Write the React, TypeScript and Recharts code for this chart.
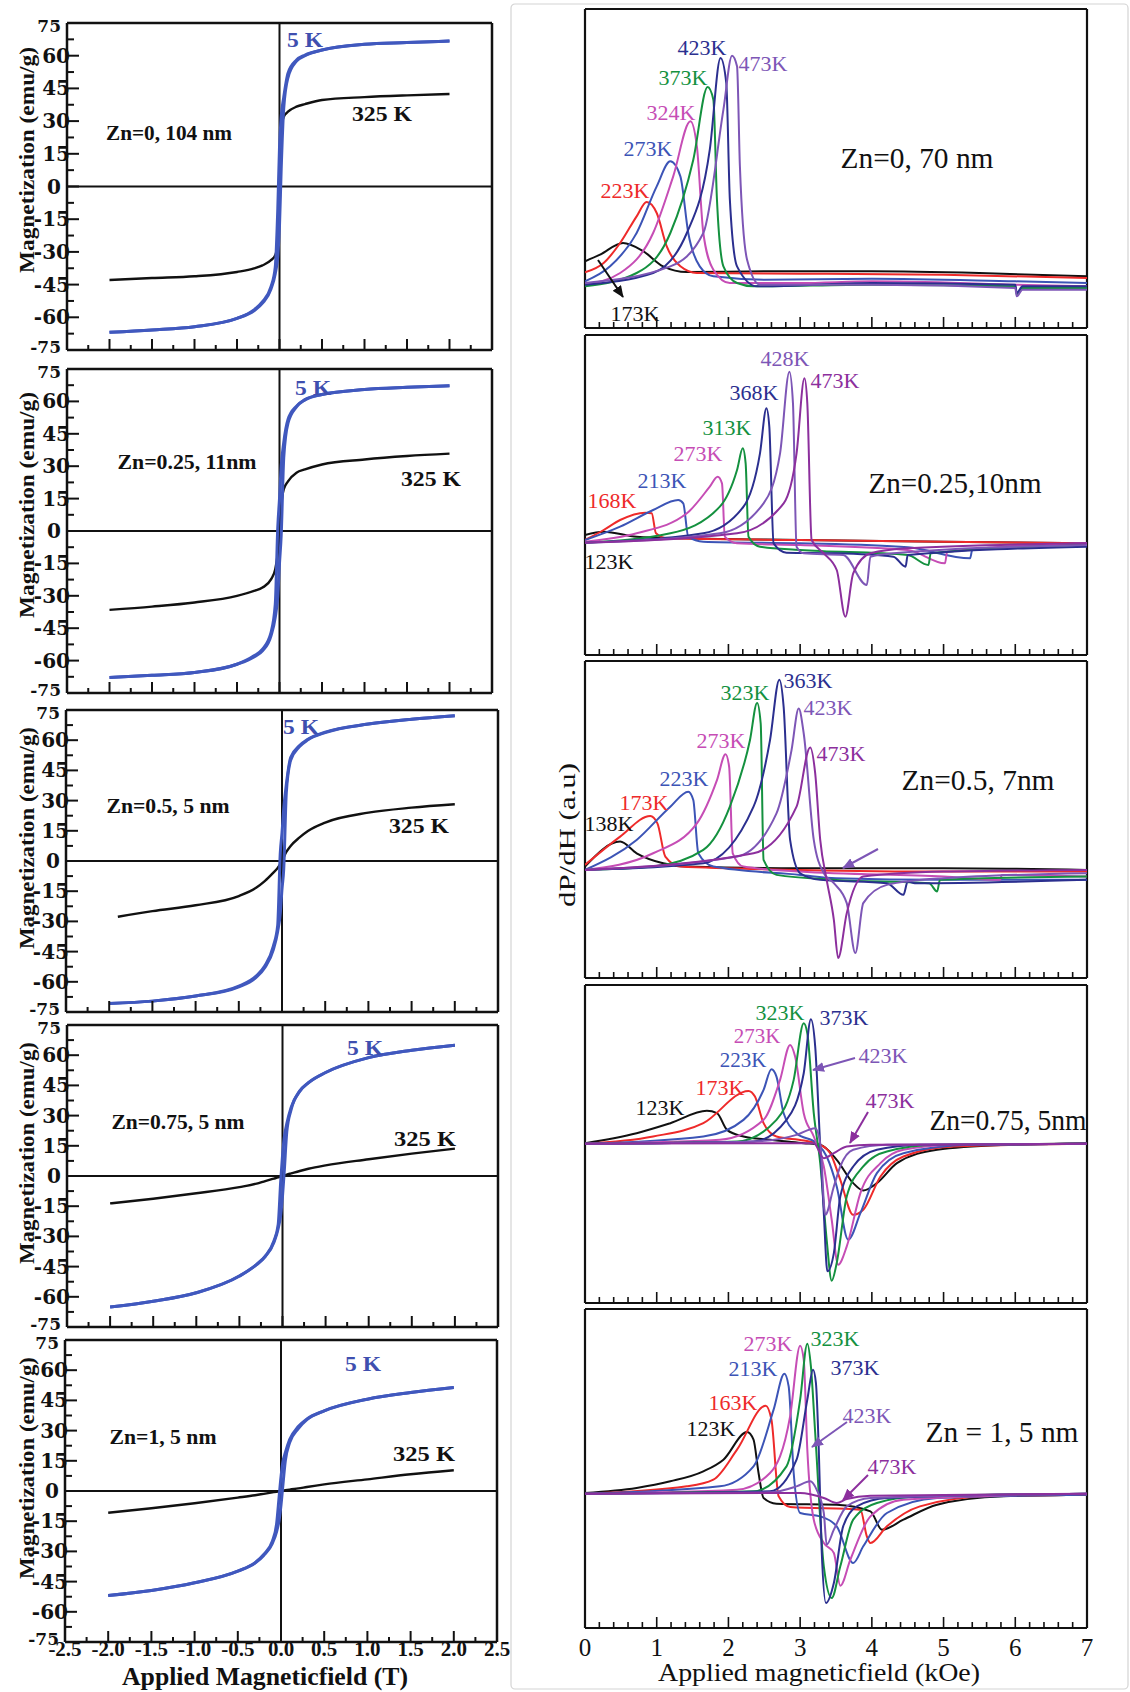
import React from 'react';
import { LineChart, Line, XAxis, YAxis, ReferenceLine } from 'recharts';

const FONT = "'Liberation Serif', 'Times New Roman', serif";

// ---------------- Left column: M-H hysteresis ----------------
const HX = [-2, -1.5, -1, -0.5, -0.3, -0.2, -0.1, -0.05, -0.02, 0, 0.02, 0.05, 0.1, 0.2, 0.3, 0.5, 1, 1.5, 2];
const HX_P3_325 = [-1.9, -1.5, -1, -0.5, -0.3, -0.2, -0.1, -0.05, 0, 0.05, 0.1, 0.2, 0.3, 0.5, 1, 1.5, 2];

const P1_5K_UP = [-66.9, -65.8, -64.3, -60.5, -57, -53.5, -47, -40, -32, -18, 8, 36, 50, 57.5, 60, 62.6, 65.2, 66, 66.7];
const P1_5K_DOWN = [-66.9, -65.8, -64.3, -60.5, -56.6, -52.8, -46, -37, -10, 18, 32, 41, 52, 58, 60.3, 62.6, 65.2, 66, 66.7];
const P1_325K = [-42.9, -42, -41.2, -39.2, -37.6, -36.2, -33.8, -31.5, -25, 0, 25, 32, 34.3, 36.6, 37.8, 39.7, 41, 41.8, 42.4];

const P2_5K_UP = [-67.8, -66.8, -65.5, -61.7, -58.3, -55.5, -48.5, -40, -30, -15, -2, 34, 50, 57.5, 60.7, 63.2, 65.5, 66.5, 67.2];
const P2_5K_DOWN = [-67.8, -66.8, -65.5, -61.7, -57.8, -54.7, -47, -34, 2, 15, 30, 41, 51.6, 57.8, 60.9, 63.2, 65.5, 66.5, 67.2];
const P2_325K = [-36.5, -35, -33.1, -30, -27.7, -26.2, -22.4, -17.7, -10, 0, 11.6, 19.3, 23, 27, 28.5, 30.8, 33.1, 34.7, 35.8];

const P3_5K_UP = [-70.8, -69.6, -67.1, -62.5, -57.8, -53, -44, -35, -26, -14, -4, 34, 50, 56.7, 60.2, 63.8, 68, 70.4, 72.1];
const P3_5K_DOWN = [-70.8, -69.6, -67.1, -62.2, -57.2, -52.2, -42.3, -32, 4, 14, 26, 38, 51.4, 57.2, 60.5, 64, 68, 70.4, 72.1];
const P3_325K = [-27.7, -24.9, -22, -17.4, -13.3, -10, -5.8, -3.5, 0, 4.5, 7.5, 11.6, 14.9, 19.1, 24, 26.5, 28.2];

const P4_5K_UP = [-65.1, -62.2, -58, -49.7, -44, -40, -33, -26, -19, -10, 2, 22, 33, 42, 46.2, 51.4, 58.8, 62.5, 65];
const P4_5K_DOWN = [-65.1, -62.2, -58, -49.7, -43.9, -39.8, -32.3, -24, -2, 10, 19, 26, 34, 42.3, 46.4, 51.4, 58.8, 62.5, 65];
const P4_325K = [-13.6, -11.3, -8.6, -5.5, -3.8, -2.5, -1.3, -0.7, -0.3, 0, 0.3, 0.7, 1.3, 2.5, 3.6, 5.3, 8.3, 11.1, 13.6];

const P5_5K_UP = [-51.9, -49.4, -45.6, -39.8, -35.8, -32, -26, -20, -14, -7, 2, 15, 24, 31, 35.4, 39.8, 45.6, 48.9, 51.4];
const P5_5K_DOWN = [-51.9, -49.4, -45.6, -39.8, -35.6, -31.5, -24.9, -16, -2, 7, 14, 19, 25.5, 32, 35.8, 39.8, 45.6, 48.9, 51.4];
const P5_325K = [-10.8, -8.6, -6.1, -3.3, -2.1, -1.4, -0.7, -0.35, -0.15, 0, 0.15, 0.35, 0.7, 1.3, 2, 3.3, 5.8, 8.3, 10.3];

const M_TICKS = [-75, -67.5, -60, -52.5, -45, -37.5, -30, -22.5, -15, -7.5, 0, 7.5, 15, 22.5, 30, 37.5, 45, 52.5, 60, 67.5, 75];
const H_TICKS = [-2.5, -2.25, -2, -1.75, -1.5, -1.25, -1, -0.75, -0.5, -0.25, 0, 0.25, 0.5, 0.75, 1, 1.25, 1.5, 1.75, 2, 2.25, 2.5];

// ---------------- Right column: EPR dP/dH (x in kOe, y in a.u.) ----------------
const F_TICKS = [0, 0.2, 0.4, 0.6, 0.8, 1, 1.2, 1.4, 1.6, 1.8, 2, 2.2, 2.4, 2.6, 2.8, 3, 3.2, 3.4, 3.6, 3.8, 4, 4.2, 4.4, 4.6, 4.8, 5, 5.2, 5.4, 5.6, 5.8, 6, 6.2, 6.4, 6.6, 6.8, 7];

const Z0_173K = [[0, 20], [0.21, 22], [0.53, 25.5], [0.8, 23.2], [1.09, 18.5], [1.42, 16.8], [2.5, 17], [4, 17], [5.5, 16.5], [7, 15.5]];
const Z0_223K = [[0, 16.7], [0.26, 19.5], [0.49, 25.5], [0.72, 33.5], [0.86, 37.8], [1.0, 34.5], [1.14, 24.5], [1.33, 18.5], [1.56, 16.5], [3, 16.3], [5, 16], [7, 15]];
const Z0_273K = [[0, 14], [0.35, 18.5], [0.72, 28.5], [1.0, 42.5], [1.19, 50], [1.33, 45.5], [1.44, 28.5], [1.6, 18.5], [1.79, 15.5], [2.5, 14.5], [4, 14.8], [6, 14], [7, 13.5]];
const Z0_324K = [[0, 13], [0.49, 16.5], [0.95, 28.5], [1.23, 45.5], [1.47, 62], [1.56, 54.5], [1.65, 28.5], [1.79, 17.5], [2.02, 13.5], [3, 13.5], [4, 14], [6, 13], [7, 12.5]];
const Z0_373K = [[0, 12.5], [0.72, 16.5], [1.19, 28.5], [1.51, 50.5], [1.71, 72.3], [1.79, 68.5], [1.84, 38.5], [1.93, 18.5], [2.12, 13.5], [2.35, 12.5], [4, 13], [6, 12.5], [6.02, 10], [6.1, 12], [7, 12]];
const Z0_423K = [[0, 13], [0.95, 16.5], [1.42, 28.5], [1.74, 53.5], [1.89, 81], [1.97, 73.5], [2.02, 38.5], [2.12, 18.5], [2.4, 12.5], [4, 13.5], [6, 13], [6.02, 10.5], [6.1, 12.5], [7, 12.5]];
const Z0_473K = [[0, 13.5], [1.19, 18.5], [1.65, 28.5], [1.93, 65.5], [2.05, 81.7], [2.12, 78.5], [2.16, 48.5], [2.26, 20.5], [2.44, 13], [4, 13], [6, 12], [6.02, 9.5], [6.1, 11.5], [7, 11.5]];

const Z25_123K = [[0, 36], [0.26, 37], [0.72, 35.5], [1.4, 35], [3, 34.5], [5, 34], [7, 33.5]];
const Z25_168K = [[0, 34.5], [0.26, 37.5], [0.49, 40.5], [0.84, 42.7], [0.93, 42.5], [0.99, 36.5], [1.14, 35], [3, 34.5], [5, 34], [7, 33.5]];
const Z25_213K = [[0, 34.5], [0.49, 38.5], [0.95, 43.5], [1.3, 46.5], [1.37, 45.5], [1.44, 35.5], [1.65, 34], [3, 33.5], [4.5, 32.3], [5.37, 29], [5.4, 31.5], [7, 33.5]];
const Z25_273K = [[0, 34], [0.72, 36.5], [1.42, 42.5], [1.74, 50.5], [1.85, 53.5], [1.91, 51.5], [1.95, 35.5], [2.12, 33.5], [3, 33], [4.5, 31.5], [5.02, 27.5], [5.05, 31], [7, 33.5]];
const Z25_313K = [[0, 33.7], [1.19, 36.5], [1.88, 44.5], [2.12, 55.5], [2.2, 62], [2.24, 57.5], [2.28, 35.5], [2.44, 32.5], [3, 31.5], [4.5, 30], [4.79, 27], [4.82, 30.5], [7, 33]];
const Z25_368K = [[0, 33.7], [1.65, 36.5], [2.21, 44.5], [2.44, 60.5], [2.53, 74], [2.57, 68.5], [2.63, 33.5], [2.81, 30.7], [3.5, 30.5], [4.3, 29.5], [4.47, 26.5], [4.5, 30], [7, 32.5]];
const Z25_428K = [[0, 33.7], [1.88, 36.5], [2.49, 45.5], [2.72, 60.5], [2.85, 85], [2.9, 75.5], [2.95, 32.5], [3.05, 30.5], [3.6, 30], [3.93, 21], [3.98, 29.5], [4.3, 30.5], [7, 33]];
const Z25_473K = [[0, 33.7], [2.12, 36.5], [2.77, 45.5], [2.95, 60.5], [3.06, 83], [3.1, 75.5], [3.16, 34.5], [3.33, 30.5], [3.51, 25.5], [3.63, 11.5], [3.74, 24.5], [3.98, 30.5], [4.5, 32], [7, 33.5]];

const Z50_138K = [[0, 33.5], [0.49, 41], [0.72, 37.5], [1.09, 34.5], [1.42, 33.5], [3, 33], [5, 33], [7, 32.5]];
const Z50_173K = [[0, 34], [0.49, 42.5], [0.91, 48.7], [1.01, 46.5], [1.12, 36.5], [1.33, 33.5], [3, 32.5], [5, 32], [7, 32]];
const Z50_223K = [[0, 32.5], [0.72, 41.5], [1.19, 51.5], [1.44, 56], [1.51, 53.5], [1.58, 37.5], [1.79, 33.5], [3, 31], [3.5, 30], [5, 29.5], [7, 29.5]];
const Z50_273K = [[0, 32.5], [0.95, 37.5], [1.56, 46.5], [1.84, 59.5], [1.96, 67.3], [2.01, 63.5], [2.06, 37.5], [2.21, 33.5], [3, 32], [5, 30.5], [5.79, 29.5], [5.81, 31], [7, 30.5]];
const Z50_323K = [[0, 32.5], [0.95, 33.5], [1.65, 38.5], [2.02, 51.5], [2.3, 71.5], [2.4, 82.7], [2.45, 76.5], [2.49, 35.5], [2.67, 31], [3.5, 29.5], [4.8, 28.5], [4.91, 26], [4.95, 29.5], [7, 30.5]];
const Z50_363K = [[0, 32.5], [1.65, 34.5], [2.35, 51.5], [2.58, 71.5], [2.71, 89.7], [2.77, 81.5], [2.86, 41.5], [3.0, 31.5], [3.28, 29.5], [4.21, 28.5], [4.44, 25], [4.5, 29], [4.6, 28.5], [7, 29.5]];
const Z50_423K = [[0, 32.5], [2.12, 36.5], [2.67, 49.5], [2.88, 68.5], [2.98, 81], [3.05, 73.5], [3.19, 41.5], [3.33, 31.5], [3.47, 28.5], [3.65, 22.5], [3.77, 7.5], [3.88, 22.5], [4.21, 28], [5, 30], [7, 31.5]];
const Z50_473K = [[0, 32.5], [2.35, 37.5], [2.95, 51.5], [3.14, 69.3], [3.21, 61.5], [3.28, 41.5], [3.37, 29.5], [3.47, 17.5], [3.53, 6], [3.65, 19.5], [3.88, 30.5], [5, 32], [7, 32.5]];

const Z75_123K = [[0, 48], [0.72, 51], [1.19, 54], [1.7, 57.7], [1.84, 57], [1.98, 52], [2.21, 50], [2.58, 49], [3.05, 48], [3.28, 47.5], [3.51, 43], [3.74, 36], [3.88, 33.8], [4.07, 36], [4.35, 42], [4.91, 46], [5.84, 47.5], [7, 48]];
const Z75_173K = [[0, 47.8], [0.95, 50], [1.65, 54], [2.28, 63.7], [2.37, 62], [2.49, 54], [2.67, 50], [3.05, 48.8], [3.28, 47.5], [3.42, 45], [3.56, 37], [3.74, 26.5], [3.88, 28], [4.12, 38], [4.44, 44], [5.14, 47], [7, 47.8]];
const Z75_223K = [[0, 47.8], [1.65, 50], [2.21, 55], [2.49, 64], [2.6, 70.2], [2.67, 68], [2.77, 57], [2.95, 51], [3.23, 48], [3.37, 44], [3.51, 35], [3.67, 19], [3.84, 27], [4.07, 39], [4.44, 45], [5.37, 47.5], [7, 47.8]];
const Z75_273K = [[0, 47.8], [1.88, 49], [2.49, 55], [2.72, 67], [2.86, 77.5], [2.93, 74], [3.05, 57], [3.19, 50], [3.33, 41], [3.44, 25], [3.53, 11.5], [3.65, 17], [3.84, 33], [4.12, 42], [4.44, 46], [5.14, 47.5], [7, 47.8]];
const Z75_323K = [[0, 47.8], [2.12, 48.5], [2.67, 55], [2.91, 67], [3.05, 84], [3.1, 81], [3.19, 57], [3.28, 42], [3.37, 19], [3.44, 6.7], [3.51, 12], [3.65, 32], [3.88, 41], [4.21, 45.5], [4.91, 47.5], [7, 47.8]];
const Z75_373K = [[0, 47.8], [2.35, 48.5], [2.81, 55], [3.05, 69], [3.15, 85.2], [3.21, 77], [3.28, 47], [3.33, 27], [3.38, 9.5], [3.47, 15], [3.56, 32], [3.74, 41], [4.07, 46], [4.67, 47.5], [7, 47.8]];
const Z75_423K = [[0, 47.8], [2.35, 48.5], [2.95, 50.5], [3.21, 52.5], [3.28, 48], [3.35, 26.5], [3.47, 35], [3.56, 41], [3.74, 46], [4.21, 47.5], [7, 47.8]];
const Z75_473K = [[0, 47.8], [2.81, 48], [3.19, 48], [3.33, 43.5], [3.47, 45], [3.65, 47], [3.98, 47.5], [7, 47.8]];

const Z100_123K = [[0, 40.5], [0.72, 42], [1.19, 44], [1.65, 47], [1.93, 50.5], [2.26, 58.8], [2.35, 56.5], [2.42, 46.5], [2.49, 39], [2.67, 37.3], [3.51, 37], [3.98, 35], [4.14, 29.5], [4.44, 32.5], [4.91, 37], [5.84, 39.5], [7, 40]];
const Z100_163K = [[0, 40.3], [1.42, 42.5], [1.79, 44.5], [2.12, 53.5], [2.52, 66.7], [2.6, 62.5], [2.7, 39.5], [2.86, 36.3], [3.84, 35.5], [3.93, 27.5], [3.98, 25.5], [4.21, 30.5], [4.67, 36.5], [5.6, 39.5], [7, 40]];
const Z100_213K = [[0, 40.3], [1.88, 42.5], [2.35, 48.5], [2.63, 65.5], [2.78, 76.3], [2.84, 72.5], [2.91, 46.5], [3.0, 34.5], [3.28, 33.5], [3.51, 30.5], [3.74, 19.5], [3.88, 24.5], [4.21, 34.5], [4.91, 39], [7, 40]];
const Z100_273K = [[0, 40.3], [2.12, 41.5], [2.58, 46.5], [2.86, 63.5], [3.0, 84.7], [3.05, 80.5], [3.1, 53.5], [3.19, 32.5], [3.33, 25.5], [3.47, 22.5], [3.56, 12.7], [3.7, 20.5], [3.98, 33.5], [4.44, 38.5], [7, 40.3]];
const Z100_323K = [[0, 40.3], [2.35, 41], [2.81, 48.5], [3.0, 68.5], [3.1, 85.3], [3.15, 78.5], [3.21, 58.5], [3.33, 18.5], [3.44, 9], [3.56, 18.5], [3.74, 32.5], [4.07, 37.5], [4.67, 39.5], [7, 40.3]];
const Z100_373K = [[0, 40.3], [2.58, 41], [2.95, 50.5], [3.1, 68.5], [3.18, 77.5], [3.22, 73.5], [3.26, 53.5], [3.3, 23.5], [3.36, 7.5], [3.47, 13.5], [3.6, 30.5], [3.79, 36.5], [4.21, 39], [7, 40.3]];
const Z100_423K = [[0, 40.3], [2.58, 40.7], [2.95, 42.5], [3.14, 44], [3.23, 41.5], [3.33, 34.5], [3.37, 25], [3.47, 29.5], [3.65, 36.5], [3.98, 39], [7, 40.3]];
const Z100_473K = [[0, 40.3], [3.0, 40.5], [3.33, 39], [3.51, 37.5], [3.65, 38.7], [3.98, 39.7], [7, 40.3]];

// ---------------- styles ----------------
const C = {
  black: '#111111',
  red: '#EE2A2A',
  blue: '#3C54B6',
  magenta: '#C64DB5',
  green: '#14913F',
  navy: '#2B2F8F',
  purple: '#7D56B6',
  violet: '#8C2F9D',
  loop: '#4058BE',
  loopLabel: '#3F4FAF',
};

const toData = (xs: number[], ys: number[]) => xs.map((x, i) => ({ x, y: ys[i] }));
const fromPairs = (p: number[][]) => p.map(([x, y]) => ({ x, y }));

const LEFT = [
  { L: 67, R: 492, T: 23, B: 350, up: toData(HX, P1_5K_UP), down: toData(HX, P1_5K_DOWN), hot: toData(HX, P1_325K) },
  { L: 67, R: 492, T: 369, B: 693, up: toData(HX, P2_5K_UP), down: toData(HX, P2_5K_DOWN), hot: toData(HX, P2_325K) },
  { L: 66, R: 498, T: 710, B: 1012, up: toData(HX, P3_5K_UP), down: toData(HX, P3_5K_DOWN), hot: toData(HX_P3_325, P3_325K) },
  { L: 67, R: 498, T: 1025, B: 1327, up: toData(HX, P4_5K_UP), down: toData(HX, P4_5K_DOWN), hot: toData(HX, P4_325K) },
  { L: 65, R: 497, T: 1340, B: 1642, up: toData(HX, P5_5K_UP), down: toData(HX, P5_5K_DOWN), hot: toData(HX, P5_325K) },
];

const RIGHT = [
  { T: 9, B: 328, ymax: 95.7, series: [[Z0_173K, C.black], [Z0_223K, C.red], [Z0_273K, C.blue], [Z0_324K, C.magenta], [Z0_373K, C.green], [Z0_423K, C.navy], [Z0_473K, C.purple]] },
  { T: 335, B: 655, ymax: 96, series: [[Z25_123K, C.black], [Z25_168K, C.red], [Z25_213K, C.blue], [Z25_273K, C.magenta], [Z25_313K, C.green], [Z25_368K, C.navy], [Z25_428K, C.purple], [Z25_473K, C.violet]] },
  { T: 661, B: 978, ymax: 95.3, series: [[Z50_138K, C.black], [Z50_173K, C.red], [Z50_223K, C.blue], [Z50_273K, C.magenta], [Z50_323K, C.green], [Z50_363K, C.navy], [Z50_423K, C.purple], [Z50_473K, C.violet]] },
  { T: 985, B: 1303, ymax: 95.5, series: [[Z75_123K, C.black], [Z75_173K, C.red], [Z75_223K, C.blue], [Z75_273K, C.magenta], [Z75_323K, C.green], [Z75_373K, C.navy], [Z75_423K, C.purple], [Z75_473K, C.violet]] },
  { T: 1309, B: 1628, ymax: 95.7, series: [[Z100_123K, C.black], [Z100_163K, C.red], [Z100_213K, C.blue], [Z100_273K, C.magenta], [Z100_323K, C.green], [Z100_373K, C.navy], [Z100_423K, C.purple], [Z100_473K, C.violet]] },
];

// ---------------- tick renderers (box edge passed in, position along axis from Recharts) ----------------
const makeMTick = (bx: number) => (props: any) => {
  const { y, payload } = props;
  const v = payload.value;
  const major = Math.abs(v / 15 - Math.round(v / 15)) < 1e-6;
  const edge = Math.abs(v) > 74;
  const len = major ? 12 : 7;
  const tx = edge || v === 0 ? bx - 6 : bx + 3;
  const ty = edge ? y + (v > 0 ? 3 : -3) : y;
  return (
    <g>
      {!edge && <line x1={bx} y1={y} x2={bx + len} y2={y} stroke="#111" strokeWidth={2} />}
      {major && (
        <text x={tx} y={ty} textAnchor="end" dominantBaseline="central" fontFamily="'DejaVu Serif', serif" fontWeight="bold" fontSize={edge ? 17 : 20} fill="#111">
          {String(v)}
        </text>
      )}
    </g>
  );
};

const makeHTick = (last: boolean, by: number) => (props: any) => {
  const { x, payload } = props;
  const v = payload.value;
  const major = Math.abs(v * 2 - Math.round(v * 2)) < 1e-6;
  const edge = Math.abs(v) > 2.4;
  return (
    <g>
      {!edge && <line x1={x} y1={by} x2={x} y2={by - (major ? 11 : 5)} stroke="#111" strokeWidth={2} />}
      {last && major && (
        <text x={x} y={by + 7} textAnchor="middle" dominantBaseline="central" fontFamily={FONT} fontWeight="bold" fontSize={21} fill="#111">
          {v.toFixed(1)}
        </text>
      )}
    </g>
  );
};

const makeFTick = (last: boolean, by: number) => (props: any) => {
  const { x, payload } = props;
  const v = payload.value;
  const major = Math.abs(v - Math.round(v)) < 1e-6;
  const edge = v < 0.01 || v > 6.99;
  return (
    <g>
      {!edge && <line x1={x} y1={by} x2={x} y2={by - (major ? 11 : 6)} stroke="#111" strokeWidth={1.6} />}
      {last && major && (
        <text x={x} y={by + 19} textAnchor="middle" dominantBaseline="central" fontFamily={FONT} fontSize={25} fill="#111">
          {String(Math.round(v))}
        </text>
      )}
    </g>
  );
};

// ---------------- panels ----------------
function LeftPanel({ L, R, T, B, up, down, hot, last }: any) {
  const mt = 14;
  const mb = last ? 26 : 14;
  const mr = 14;
  const w = R + mr;
  const h = B - T + mt + mb;
  const frame = { stroke: '#111', strokeWidth: 2.5, ifOverflow: 'visible' as const };
  return (
    <div style={{ position: 'absolute', left: 0, top: T - mt }}>
      <LineChart width={w} height={h} margin={{ top: mt, left: L - 1, right: mr, bottom: mb - 1 }}>
        <XAxis type="number" dataKey="x" domain={[-2.5, 2.5]} ticks={H_TICKS} interval={0} height={1}
          axisLine={false} tickLine={false} tick={makeHTick(!!last, mt + (B - T))} allowDataOverflow />
        <YAxis type="number" domain={[-75, 75]} ticks={M_TICKS} interval={0} width={1}
          axisLine={false} tickLine={false} tick={makeMTick(L)} allowDataOverflow />
        <ReferenceLine x={-2.5} {...frame} />
        <ReferenceLine x={2.5} {...frame} />
        <ReferenceLine y={-75} {...frame} />
        <ReferenceLine y={75} {...frame} />
        <ReferenceLine x={0} stroke="#111" strokeWidth={2} ifOverflow="visible" />
        <ReferenceLine y={0} stroke="#111" strokeWidth={2} ifOverflow="visible" />
        <Line data={hot} dataKey="y" type="monotone" stroke={C.black} strokeWidth={2.4} dot={false} isAnimationActive={false} />
        <Line data={up} dataKey="y" type="monotone" stroke={C.loop} strokeWidth={3} dot={false} isAnimationActive={false} />
        <Line data={down} dataKey="y" type="monotone" stroke={C.loop} strokeWidth={3} dot={false} isAnimationActive={false} />
      </LineChart>
    </div>
  );
}

function RightPanel({ T, B, ymax, series, last }: any) {
  const L = 585;
  const R = 1087;
  const m = 10;
  const mb = last ? 36 : 10;
  const frame = { stroke: '#111', strokeWidth: 2.2, ifOverflow: 'visible' as const };
  return (
    <div style={{ position: 'absolute', left: L - m, top: T - m }}>
      <LineChart width={R - L + 2 * m} height={B - T + m + mb} margin={{ top: m, left: m, right: m, bottom: mb - 1 }}>
        <XAxis type="number" dataKey="x" domain={[0, 7]} ticks={F_TICKS} interval={0} height={1}
          axisLine={false} tickLine={false} tick={makeFTick(!!last, m + (B - T))} allowDataOverflow />
        <YAxis type="number" domain={[0, ymax]} hide allowDataOverflow />
        <ReferenceLine x={0} {...frame} />
        <ReferenceLine x={7} {...frame} />
        <ReferenceLine y={0} {...frame} />
        <ReferenceLine y={ymax} {...frame} />
        {series.map(([pts, color]: any, i: number) => (
          <Line key={i} data={fromPairs(pts)} dataKey="y" type="monotone" stroke={color} strokeWidth={2}
            dot={false} isAnimationActive={false} />
        ))}
      </LineChart>
    </div>
  );
}

// ---------------- annotation text ----------------
const LEFT_TEXT = [
  { t: 'Zn=0, 104 nm', x: 169, y: 133, s: 21, w: 126, c: C.black, b: true },
  { t: '5 K', x: 305, y: 39, s: 22, w: 36, c: C.loopLabel, b: true },
  { t: '325 K', x: 382, y: 113, s: 22, w: 60, c: C.black, b: true },
  { t: 'Zn=0.25, 11nm', x: 187, y: 462, s: 21, w: 139, c: C.black, b: true },
  { t: '5 K', x: 313, y: 387, s: 22, w: 36, c: C.loopLabel, b: true },
  { t: '325 K', x: 431, y: 478, s: 22, w: 60, c: C.black, b: true },
  { t: 'Zn=0.5, 5 nm', x: 168, y: 806, s: 21, w: 123, c: C.black, b: true },
  { t: '5 K', x: 301, y: 726, s: 22, w: 36, c: C.loopLabel, b: true },
  { t: '325 K', x: 419, y: 825, s: 22, w: 60, c: C.black, b: true },
  { t: 'Zn=0.75, 5 nm', x: 178, y: 1122, s: 21, w: 133, c: C.black, b: true },
  { t: '5 K', x: 365, y: 1047, s: 22, w: 36, c: C.loopLabel, b: true },
  { t: '325 K', x: 425, y: 1138, s: 22, w: 62, c: C.black, b: true },
  { t: 'Zn=1, 5 nm', x: 163, y: 1437, s: 21, w: 107, c: C.black, b: true },
  { t: '5 K', x: 363, y: 1363, s: 22, w: 36, c: C.loopLabel, b: true },
  { t: '325 K', x: 424, y: 1453, s: 22, w: 62, c: C.black, b: true },
  { t: 'Magnetization (emu/g)', x: 26, y: 160, s: 22, w: 226, c: C.black, b: true, r: true },
  { t: 'Magnetization (emu/g)', x: 26, y: 505, s: 22, w: 226, c: C.black, b: true, r: true },
  { t: 'Magnetization (emu/g)', x: 26, y: 838, s: 22, w: 222, c: C.black, b: true, r: true },
  { t: 'Magnetization (emu/g)', x: 26, y: 1153, s: 22, w: 222, c: C.black, b: true, r: true },
  { t: 'Magnetization (emu/g)', x: 26, y: 1468, s: 22, w: 222, c: C.black, b: true, r: true },
  { t: 'Applied Magneticfield (T)', x: 265, y: 1676, s: 25, w: 286, c: C.black, b: true },
];

const RIGHT_TEXT = [
  { t: '423K', x: 702, y: 47, c: C.navy }, { t: '473K', x: 763, y: 63, c: C.purple },
  { t: '373K', x: 683, y: 77, c: C.green }, { t: '324K', x: 671, y: 112, c: C.magenta },
  { t: '273K', x: 648, y: 148, c: C.blue }, { t: '223K', x: 625, y: 190, c: C.red },
  { t: '173K', x: 635, y: 313, c: C.black },
  { t: '428K', x: 785, y: 358, c: C.purple }, { t: '473K', x: 835, y: 380, c: C.violet },
  { t: '368K', x: 754, y: 392, c: C.navy }, { t: '313K', x: 727, y: 427, c: C.green },
  { t: '273K', x: 698, y: 453, c: C.magenta }, { t: '213K', x: 662, y: 480, c: C.blue },
  { t: '168K', x: 612, y: 500, c: C.red }, { t: '123K', x: 609, y: 561, c: C.black },
  { t: '323K', x: 745, y: 692, c: C.green }, { t: '363K', x: 808, y: 680, c: C.navy },
  { t: '423K', x: 828, y: 707, c: C.purple }, { t: '273K', x: 721, y: 740, c: C.magenta },
  { t: '473K', x: 841, y: 753, c: C.violet }, { t: '223K', x: 684, y: 778, c: C.blue },
  { t: '173K', x: 644, y: 802, c: C.red }, { t: '138K', x: 609, y: 823, c: C.black },
  { t: '323K', x: 780, y: 1012, c: C.green }, { t: '373K', x: 844, y: 1017, c: C.navy },
  { t: '273K', x: 757, y: 1036, c: C.magenta, s: 21 }, { t: '423K', x: 883, y: 1055, c: C.purple },
  { t: '223K', x: 743, y: 1060, c: C.blue, s: 21 }, { t: '173K', x: 720, y: 1087, c: C.red },
  { t: '473K', x: 890, y: 1100, c: C.violet }, { t: '123K', x: 660, y: 1107, c: C.black },
  { t: '273K', x: 768, y: 1343, c: C.magenta }, { t: '323K', x: 835, y: 1338, c: C.green },
  { t: '213K', x: 753, y: 1368, c: C.blue }, { t: '373K', x: 855, y: 1367, c: C.navy },
  { t: '163K', x: 733, y: 1402, c: C.red }, { t: '423K', x: 867, y: 1415, c: C.purple },
  { t: '123K', x: 711, y: 1428, c: C.black }, { t: '473K', x: 892, y: 1466, c: C.violet },
];

const RIGHT_TITLES = [
  { t: 'Zn=0, 70 nm', x: 917, y: 158, s: 29, w: 153, c: C.black },
  { t: 'Zn=0.25,10nm', x: 955, y: 483, s: 29, w: 173, c: C.black },
  { t: 'Zn=0.5, 7nm', x: 978, y: 780, s: 29, w: 153, c: C.black },
  { t: 'Zn=0.75, 5nm', x: 1008, y: 1120, s: 29, w: 157, c: C.black },
  { t: 'Zn = 1, 5 nm', x: 1002, y: 1432, s: 29, w: 153, c: C.black },
  { t: 'dP/dH (a.u)', x: 567, y: 835, s: 24, w: 144, c: C.black, r: true },
  { t: 'Applied magneticfield (kOe)', x: 819, y: 1672, s: 26, w: 322, c: C.black },
];

const ARROWS = [
  { x1: 598, y1: 260, x2: 623, y2: 297, m: 0 },
  { x1: 878, y1: 849, x2: 843, y2: 868, m: 1 },
  { x1: 855, y1: 1058, x2: 813, y2: 1070, m: 1 },
  { x1: 868, y1: 1112, x2: 850, y2: 1143, m: 2 },
  { x1: 847, y1: 1422, x2: 812, y2: 1447, m: 1 },
  { x1: 868, y1: 1475, x2: 843, y2: 1500, m: 2 },
];
const ARROW_COLORS = [C.black, C.purple, C.violet];

function Txt({ d }: any) {
  const { t, x, y, s = 22, w, c, b, r } = d;
  return (
    <text x={x} y={y} textAnchor="middle" dominantBaseline="central" fontFamily={FONT} fontSize={s}
      fontWeight={b ? 'bold' : 'normal'} fill={c} textLength={w} lengthAdjust={w ? 'spacingAndGlyphs' : undefined}
      transform={r ? `rotate(-90 ${x} ${y})` : undefined}>
      {t}
    </text>
  );
}

export default function App() {
  return (
    <div style={{ position: 'absolute', left: 0, top: 0, width: 1130, height: 1692, background: '#fff', overflow: 'hidden' }}>
      {LEFT.map((p, i) => <LeftPanel key={'l' + i} {...p} last={i === 4} />)}
      {RIGHT.map((p, i) => <RightPanel key={'r' + i} {...p} last={i === 4} />)}
      <svg style={{ position: 'absolute', left: 0, top: 0, pointerEvents: 'none' }} width={1130} height={1692}>
        <defs>
          {ARROW_COLORS.map((c, i) => (
            <marker key={i} id={'ah' + i} markerWidth={12} markerHeight={10} refX={11} refY={5} orient="auto" markerUnits="userSpaceOnUse">
              <path d="M0,0 L12,5 L0,10 z" fill={c} />
            </marker>
          ))}
        </defs>
        <rect x={511} y={4} width={617} height={1685} rx={4} fill="none" stroke="#d4d4d4" strokeWidth={1.2} />
        {LEFT_TEXT.map((d, i) => <Txt key={'lt' + i} d={d} />)}
        {RIGHT_TEXT.map((d, i) => <Txt key={'rt' + i} d={d} />)}
        {RIGHT_TITLES.map((d, i) => <Txt key={'rtt' + i} d={d} />)}
        {ARROWS.map((a, i) => (
          <line key={'a' + i} x1={a.x1} y1={a.y1} x2={a.x2} y2={a.y2} stroke={ARROW_COLORS[a.m]} strokeWidth={2} markerEnd={`url(#ah${a.m})`} />
        ))}
      </svg>
    </div>
  );
}
